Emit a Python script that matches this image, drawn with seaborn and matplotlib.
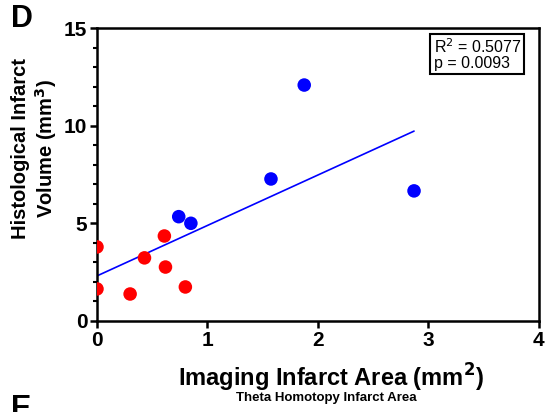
import matplotlib
matplotlib.use("Agg")
import matplotlib.pyplot as plt
import seaborn as sns
import pandas as pd
from matplotlib.ticker import MultipleLocator

# data
group = ["red"] * 7 + ["blue"] * 5
area = [0.00, 0.00, 0.30, 0.43, 0.61, 0.62, 0.80,
        0.74, 0.85, 1.575, 1.876, 2.87]
volume = [3.79, 1.64, 1.38, 3.23, 4.35, 2.76, 1.74,
          5.34, 5.00, 7.27, 12.08, 6.66]
stats_text = "R$^2$ = 0.5077\np = 0.0093"

data = pd.DataFrame({"area": area, "volume": volume, "group": group})

sns.set_style("ticks")
plt.rcParams['font.family'] = ['Liberation Sans', 'DejaVu Sans']
plt.rcParams.update({"text.color": "black", "axes.labelcolor": "black",
                     "xtick.color": "black", "ytick.color": "black",
                     "axes.edgecolor": "black"})

fig = plt.figure(figsize=(5.51, 4.12), dpi=100)
ax = fig.add_axes([0.176, 0.221, 0.802, 0.711])

sns.regplot(x="area", y="volume", data=data, scatter=False, ci=None,
            color="#0000FF", line_kws={"linewidth": 1.2}, ax=ax)
sns.scatterplot(x="area", y="volume", hue="group", data=data,
                palette={"red": "#FF0000", "blue": "#0000FF"},
                s=95, edgecolor="none", legend=False, ax=ax, zorder=3)

ax.set_xlim(0, 4)
ax.set_ylim(0, 15)
ax.xaxis.set_major_locator(MultipleLocator(1))
ax.yaxis.set_major_locator(MultipleLocator(5))
ax.yaxis.set_minor_locator(MultipleLocator(1))
for s in ax.spines.values():
    s.set_linewidth(1.8)
ax.tick_params(which="major", direction="out", length=5, width=1.8,
               labelsize=15, pad=2)
ax.tick_params(which="minor", direction="out", length=3, width=1.5)
for lbl in ax.get_xticklabels() + ax.get_yticklabels():
    lbl.set_fontweight("bold")

ax.set_xlabel("Imaging Infarct Area (mm$^\\mathbf{2}$)", fontsize=17,
              fontweight="bold")
ax.xaxis.set_label_coords(0.53, -0.138)
ax.set_ylabel("Histological Infarct\nVolume (mm$^\\mathbf{3}$)", fontsize=14.5,
              fontweight="bold")
ax.yaxis.set_label_coords(-0.085, 0.59)

ax.text(0.96, 0.97, stats_text, transform=ax.transAxes, ha="right",
        va="top", fontsize=11.5, linespacing=1.0, multialignment="left",
        bbox=dict(boxstyle="square,pad=0.2", facecolor="white",
                  edgecolor="black", linewidth=1.5))

fig.text(0.592, 0.026, "Theta Homotopy Infarct Area", ha="center",
         fontsize=9.5, fontweight="bold")
fig.text(0.02, 0.99, "D", ha="left", va="top", fontsize=22,
         fontweight="bold")
fig.text(0.02, -0.03, "E", ha="left", va="bottom", fontsize=22,
         fontweight="bold")

fig.savefig("out.png", dpi=100)
